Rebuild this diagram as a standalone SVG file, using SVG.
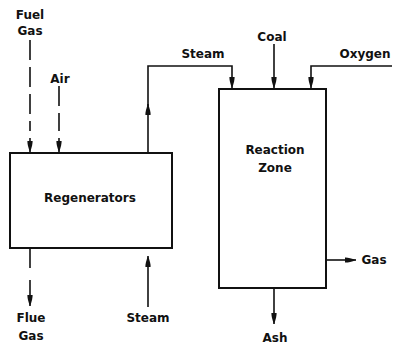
<svg xmlns="http://www.w3.org/2000/svg" width="398" height="345" viewBox="0 0 398 345">
<style>
.box{fill:#fff;stroke:#111;stroke-width:2}
.ln{fill:none;stroke:#111;stroke-width:1.6}
.dash{stroke-dasharray:20,7}
.lbl{font-family:"DejaVu Sans",sans-serif;font-weight:bold;font-size:12px;fill:#111;text-anchor:middle}
</style>
<defs>
<marker id="ah" markerUnits="userSpaceOnUse" markerWidth="12" markerHeight="8" refX="11" refY="4" orient="auto">
<path d="M0,1.4 Q4,1.2 11,4 Q4,6.8 0,6.6 Z" fill="#111"/>
</marker>
</defs>
<rect width="398" height="345" fill="#fff"/>
<g id="connectors">
<path class="ln dash" d="M30,40 L30,131"/>
<path class="ln" d="M30,138 L30,152" marker-end="url(#ah)"/>
<path class="ln dash" d="M59,86 L59,131"/>
<path class="ln" d="M59,138 L59,152" marker-end="url(#ah)"/>
<path class="ln" d="M148,153 L148,104" marker-end="url(#ah)"/>
<path class="ln" d="M148,106 L148,66 L232,66 L232,88" marker-end="url(#ah)"/>
<path class="ln" d="M274,44 L274,88" marker-end="url(#ah)"/>
<path class="ln" d="M392,66 L311,66 L311,88" marker-end="url(#ah)"/>
<path class="ln dash" d="M30,248 L30,272"/>
<path class="ln" d="M30,280 L30,306" marker-end="url(#ah)"/>
<path class="ln" d="M148,307 L148,256" marker-end="url(#ah)"/>
<path class="ln" d="M327,260 L356,260" marker-end="url(#ah)"/>
<path class="ln" d="M274,288 L274,324" marker-end="url(#ah)"/>
</g>
<g id="regenerators">
<rect class="box" x="10" y="153" width="162" height="95"/>
<text class="lbl" x="90" y="202">Regenerators</text>
</g>
<g id="reaction-zone">
<rect class="box" x="219" y="89" width="107" height="199"/>
<text class="lbl" x="275" y="154">Reaction</text>
<text class="lbl" x="275" y="172">Zone</text>
</g>
<g id="labels">
<text class="lbl" x="30" y="19">Fuel</text>
<text class="lbl" x="30" y="35">Gas</text>
<text class="lbl" x="60" y="83">Air</text>
<text class="lbl" x="203" y="58">Steam</text>
<text class="lbl" x="272" y="41">Coal</text>
<text class="lbl" x="365" y="58">Oxygen</text>
<text class="lbl" x="31" y="322">Flue</text>
<text class="lbl" x="31" y="340">Gas</text>
<text class="lbl" x="148" y="322">Steam</text>
<text class="lbl" x="374" y="264">Gas</text>
<text class="lbl" x="275" y="342">Ash</text>
</g>
</svg>
